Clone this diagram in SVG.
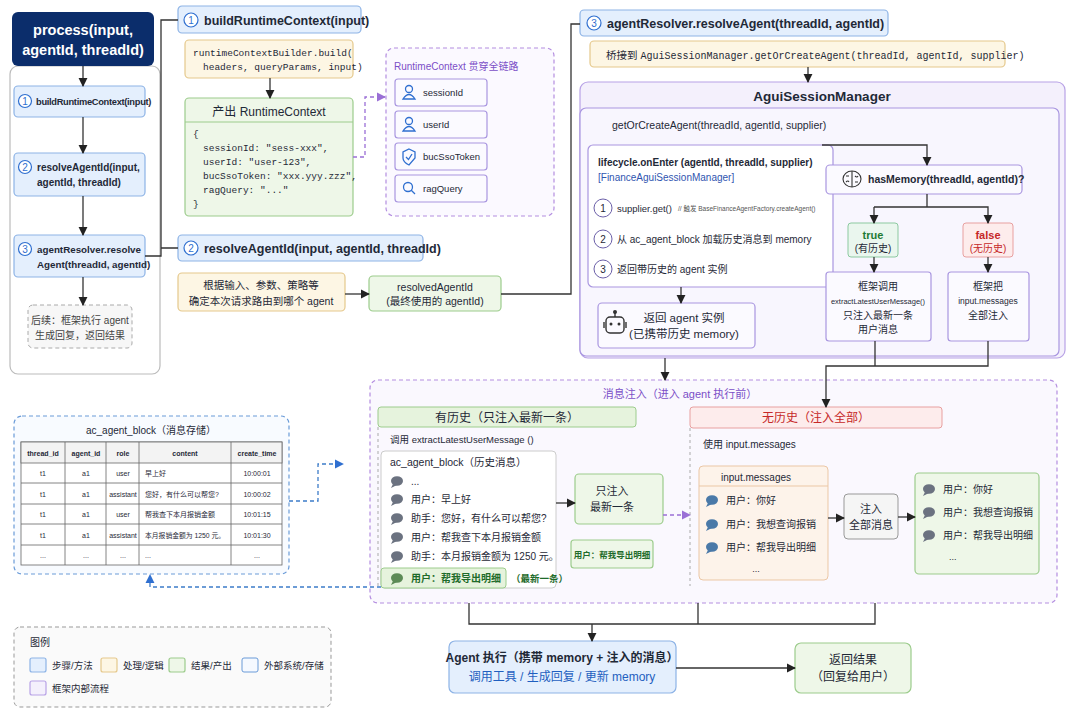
<svg xmlns="http://www.w3.org/2000/svg" width="1080" height="720" viewBox="0 0 1080 720">
<defs>
<style>
text{font-family:"Liberation Sans","Noto Sans CJK SC",sans-serif;fill:#1f2937;font-size:11px}
.m{font-family:"Liberation Mono","Noto Sans CJK SC",monospace}
.b{font-weight:bold}
.c{text-anchor:middle}
.blue{fill:#e4effd;stroke:#8db3e6;stroke-width:1.2}
.yel{fill:#fdf6e4;stroke:#e5c88c;stroke-width:1.2}
.grn{fill:#eef7e8;stroke:#9ccc8c;stroke-width:1.2}
.pur{fill:#f4f0fc;stroke:#b8a2e6;stroke-width:1.2}
.wht{fill:#fbfaff;stroke:#a996e0;stroke-width:1.2}
.ln{fill:none;stroke:#333;stroke-width:1.3}
.dp{fill:none;stroke:#9a6fd6;stroke-width:1.3;stroke-dasharray:4 3}
.db{fill:none;stroke:#3d7cc9;stroke-width:1.3;stroke-dasharray:4 3}
.bub{fill:#6b7280}
.bubb{fill:#4a79a8}
.num{fill:#fff;stroke:#2f6fd0;stroke-width:1.2}
.tb{fill:#fff;stroke:#666;stroke-width:0.8}
.t{font-size:7px}
</style>
<marker id="a" viewBox="0 0 10 10" refX="9" refY="5" markerWidth="7" markerHeight="7" orient="auto"><path d="M0,0L10,5L0,10z" fill="#222"/></marker>
<marker id="ap" viewBox="0 0 10 10" refX="9" refY="5" markerWidth="7" markerHeight="7" orient="auto"><path d="M0,0L10,5L0,10z" fill="#9a6fd6"/></marker>
<marker id="ab" viewBox="0 0 10 10" refX="9" refY="5" markerWidth="7" markerHeight="7" orient="auto"><path d="M0,0L10,5L0,10z" fill="#2f6fd0"/></marker>
<g id="bubble"><ellipse cx="0" cy="0" rx="6" ry="4.8"/><path d="M-4,3 L-6,7 L0,4z"/></g>
</defs>
<rect width="1080" height="720" fill="#fff"/>

<g id="leftcol">
<rect x="10" y="66" width="150" height="308" rx="8" fill="#fff" stroke="#bbb" stroke-width="1.2"/>
</g>
<g id="process">
<rect x="12" y="12" width="142" height="54" rx="6" fill="#0b2d6b"/>
<text x="83" y="35" class="c b" style="fill:#fff;font-size:14.5px">process(input,</text>
<text x="83" y="55" class="c b" style="fill:#fff;font-size:14.5px">agentId, threadId)</text>
</g>
<g id="step1">
<rect x="14" y="86" width="131" height="31" rx="4" class="blue"/>
<circle cx="25" cy="101" r="6.5" class="num"/><text x="25" y="105" class="c" style="fill:#2f6fd0;font-size:10px">1</text>
<text x="36" y="105" class="b" style="font-size:9.3px;letter-spacing:-0.3px">buildRuntimeContext(input)</text>
</g>
<g id="step2">
<rect x="14" y="153" width="131" height="43" rx="4" class="blue"/>
<circle cx="25" cy="167" r="6.5" class="num"/><text x="25" y="171" class="c" style="fill:#2f6fd0;font-size:10px">2</text>
<text x="37" y="171" class="b" style="font-size:10px">resolveAgentId(input,</text>
<text x="37" y="186" class="b" style="font-size:10px">agentId, threadId)</text>
</g>
<g id="step3">
<rect x="14" y="235" width="131" height="42" rx="4" class="blue"/>
<circle cx="25" cy="249" r="6.5" class="num"/><text x="25" y="253" class="c" style="fill:#2f6fd0;font-size:10px">3</text>
<text x="37" y="253" class="b" style="font-size:9.8px">agentResolver.resolve</text>
<text x="37" y="268" class="b" style="font-size:9.8px">Agent(threadId, agentId)</text>
</g>
<g id="follow">
<rect x="28" y="305" width="104" height="43" rx="5" fill="#f7f7f7" stroke="#aaa" stroke-dasharray="4 3"/>
<text x="80" y="324" class="c" style="font-size:10px;fill:#444">后续：框架执行 agent</text>
<text x="80" y="339" class="c" style="font-size:10px;fill:#444">生成回复，返回结果</text>
</g>

<g id="h1">
<rect x="178" y="6" width="183" height="27" rx="4" class="blue"/>
<circle cx="191" cy="20" r="7" class="num"/><text x="191" y="24" class="c" style="fill:#2f6fd0;font-size:10px">1</text>
<text x="204" y="25" class="b" style="font-size:12.5px">buildRuntimeContext(input)</text>
</g>
<g id="builder">
<rect x="185" y="40" width="168" height="38" rx="4" class="yel"/>
<text x="193" y="56" class="m" style="font-size:9.5px">runtimeContextBuilder.build(</text>
<text x="203" y="70" class="m" style="font-size:9.5px">headers, queryParams, input)</text>
</g>
<g id="rc">
<rect x="185" y="98" width="168" height="118" rx="4" class="grn"/>
<line x1="185" y1="122" x2="353" y2="122" stroke="#9ccc8c"/>
<text x="269" y="116" class="c" style="font-size:12px">产出 RuntimeContext</text>
<text x="193" y="137" class="m" style="font-size:9.5px">{</text>
<text x="203" y="151" class="m" style="font-size:9.5px">sessionId: "sess-xxx",</text>
<text x="203" y="165" class="m" style="font-size:9.5px">userId: "user-123",</text>
<text x="203" y="179" class="m" style="font-size:9.5px">bucSsoToken: "xxx.yyy.zzz",</text>
<text x="203" y="193" class="m" style="font-size:9.5px">ragQuery: "..."</text>
<text x="193" y="207" class="m" style="font-size:9.5px">}</text>
</g>
<g id="rcfields">
<rect x="386" y="48" width="168" height="168" rx="8" fill="#fbf9ff" stroke="#b48ee0" stroke-width="1.2" stroke-dasharray="4 3"/>
<text x="394" y="70" style="fill:#7b4fc7;font-size:10px">RuntimeContext 贯穿全链路</text>
<rect x="395" y="79" width="92" height="27" rx="3" class="wht"/>
<rect x="395" y="111" width="92" height="27" rx="3" class="wht"/>
<rect x="395" y="143" width="92" height="27" rx="3" class="wht"/>
<rect x="395" y="175" width="92" height="27" rx="3" class="wht"/>
<g fill="none" stroke="#2f6fd0" stroke-width="1.3">
<circle cx="409" cy="89" r="3.5"/><path d="M403,99 Q409,90 415,99z"/>
<circle cx="409" cy="121" r="3.5"/><path d="M403,131 Q409,122 415,131z"/>
<path d="M409,149 L415,152 L415,158 Q409,165 409,165 Q403,162 403,158 L403,152z"/><path d="M406,157 L408.5,159.5 L412,154"/>
<circle cx="408" cy="187" r="4.5"/><line x1="411" y1="190" x2="415" y2="194"/>
</g>
<text x="423" y="96" style="font-size:9.5px">sessionId</text>
<text x="423" y="128" style="font-size:9.5px">userId</text>
<text x="423" y="160" style="font-size:9.5px">bucSsoToken</text>
<text x="423" y="192" style="font-size:9.5px">ragQuery</text>
</g>

<g id="h2">
<rect x="178" y="235" width="245" height="26" rx="4" class="blue"/>
<circle cx="191" cy="248" r="7" class="num"/><text x="191" y="252" class="c" style="fill:#2f6fd0;font-size:10px">2</text>
<text x="204" y="253" class="b" style="font-size:12.5px">resolveAgentId(input, agentId, threadId)</text>
</g>
<g id="route">
<rect x="178" y="273" width="167" height="38" rx="4" class="yel"/>
<text x="261" y="289" class="c" style="font-size:10.5px">根据输入、参数、策略等</text>
<text x="261" y="305" class="c" style="font-size:10.5px">确定本次请求路由到哪个 agent</text>
</g>
<g id="resolved">
<rect x="369" y="276" width="132" height="35" rx="4" class="grn"/>
<text x="435" y="291" class="c" style="font-size:10.5px">resolvedAgentId</text>
<text x="435" y="305" class="c" style="font-size:10.5px">(最终使用的 agentId)</text>
</g>

<g id="h3">
<rect x="580" y="10" width="308" height="26" rx="4" class="blue"/>
<circle cx="594" cy="23" r="7" class="num"/><text x="594" y="27" class="c" style="fill:#2f6fd0;font-size:10px">3</text>
<text x="607" y="28" class="b" style="font-size:12.5px">agentResolver.resolveAgent(threadId, agentId)</text>
</g>
<g id="bridge">
<rect x="590" y="41" width="415" height="26" rx="4" class="yel"/>
<text x="606" y="59" style="font-size:10.5px">桥接到 <tspan class="m" style="font-size:10px">AguiSessionManager.getOrCreateAgent(threadId, agentId, supplier)</tspan></text>
</g>
<g id="asm">
<rect x="580" y="82" width="485" height="276" rx="8" class="pur"/>
<rect x="580" y="108" width="479" height="248" rx="6" fill="#f8f6fe" stroke="#a996e0" stroke-width="1.2"/>
<text x="822" y="101" class="c b" style="font-size:13.5px">AguiSessionManager</text>
<text x="612" y="129" style="font-size:10.5px">getOrCreateAgent(threadId, agentId, supplier)</text>
</g>
<g id="lifecycle">
<rect x="588" y="145" width="245" height="142" rx="5" fill="#fff" stroke="#a996e0" stroke-width="1.2"/>
<text x="598" y="166" class="b" style="font-size:10px">lifecycle.onEnter (agentId, threadId, supplier)</text>
<text x="598" y="181" style="fill:#2f55b0;font-size:10px">[FinanceAguiSessionManager]</text>
<g fill="#fff" stroke="#6b5fa8" stroke-width="1"><circle cx="603" cy="208" r="9"/><circle cx="603" cy="239" r="9"/><circle cx="603" cy="269" r="9"/></g>
<text x="603" y="212" class="c" style="font-size:10px">1</text>
<text x="603" y="243" class="c" style="font-size:10px">2</text>
<text x="603" y="273" class="c" style="font-size:10px">3</text>
<text x="617" y="212" style="font-size:9.5px">supplier.get()</text>
<text x="678" y="211" style="font-size:6.5px;fill:#555">// 触发 BaseFinanceAgentFactory.createAgent()</text>
<text x="617" y="243" style="font-size:10px">从 ac_agent_block 加载历史消息到 memory</text>
<text x="617" y="273" style="font-size:10px">返回带历史的 agent 实例</text>
</g>
<g id="hasmem">
<rect x="826" y="165" width="196" height="29" rx="4" class="wht"/>
<g fill="none" stroke="#333" stroke-width="1.1"><ellipse cx="852" cy="179" rx="9" ry="8"/><line x1="852" y1="171" x2="852" y2="187"/><path d="M846,176 h3 M855,182 h3 M846,182 q2,-2 3,0 M855,176 q2,2 3,0"/></g>
<text x="868" y="183" class="b" style="font-size:10.5px">hasMemory(threadId, agentId)?</text>
</g>
<g id="true">
<rect x="848" y="223" width="50" height="34" rx="3" fill="#eaf6ee" stroke="#8cc9a0"/>
<text x="873" y="239" class="c b" style="fill:#1e7b34;font-size:11px">true</text>
<text x="873" y="252" class="c" style="font-size:10px">(有历史)</text>
</g>
<g id="false">
<rect x="963" y="223" width="50" height="34" rx="3" fill="#fdecec" stroke="#e8a0a0"/>
<text x="988" y="239" class="c b" style="fill:#c62828;font-size:11px">false</text>
<text x="988" y="252" class="c" style="fill:#c62828;font-size:10px">(无历史)</text>
</g>
<g id="fwcall">
<rect x="826" y="272" width="105" height="69" rx="3" class="wht"/>
<text x="878" y="290" class="c" style="font-size:10px">框架调用</text>
<text x="878" y="304" class="c" style="font-size:7.5px">extractLatestUserMessage()</text>
<text x="878" y="319" class="c" style="font-size:10px">只注入最新一条</text>
<text x="878" y="333" class="c" style="font-size:10px">用户消息</text>
</g>
<g id="fwall">
<rect x="948" y="272" width="81" height="69" rx="3" class="wht"/>
<text x="988" y="290" class="c" style="font-size:10px">框架把</text>
<text x="988" y="304" class="c" style="font-size:8.5px">input.messages</text>
<text x="988" y="319" class="c" style="font-size:10px">全部注入</text>
</g>
<g id="retagent">
<rect x="598" y="303" width="157" height="45" rx="4" class="wht"/>
<g fill="none" stroke="#333" stroke-width="1.4"><rect x="606" y="317" width="18" height="16" rx="4"/><line x1="615" y1="317" x2="615" y2="313"/><circle cx="615" cy="312" r="1.3" fill="#333"/><line x1="604" y1="322" x2="604" y2="328"/><line x1="626" y1="322" x2="626" y2="328"/></g>
<circle cx="611" cy="324" r="1.5" fill="#333"/><circle cx="619" cy="324" r="1.5" fill="#333"/>
<text x="684" y="322" class="c" style="font-size:11.5px">返回 agent 实例</text>
<text x="684" y="338" class="c" style="font-size:11.5px">(已携带历史 memory)</text>
</g>

<g id="inject">
<rect x="370" y="380" width="687" height="223" rx="8" fill="#faf8fe" stroke="#b48ee0" stroke-width="1.2" stroke-dasharray="4 3"/>
<text x="680" y="398" class="c" style="fill:#7b4fc7;font-size:11px">消息注入（进入 agent 执行前）</text>
<rect x="378" y="407" width="258" height="20" rx="3" fill="#e6f3dd" stroke="#9ccc8c"/>
<text x="507" y="422" class="c" style="font-size:12px">有历史（只注入最新一条）</text>
<line x1="378" y1="427" x2="378" y2="586" stroke="#aaa" stroke-dasharray="3 3"/>
<text x="390" y="443" style="font-size:9.5px">调用 extractLatestUserMessage ()</text>
<rect x="690" y="407" width="252" height="21" rx="3" fill="#fdecec" stroke="#e8a0a0"/>
<text x="816" y="422" class="c" style="fill:#c62828;font-size:12px">无历史（注入全部）</text>
<line x1="690" y1="428" x2="690" y2="586" stroke="#aaa" stroke-dasharray="3 3"/>
<text x="703" y="448" style="font-size:10px">使用 input.messages</text>
</g>
<g id="hist">
<rect x="381" y="451" width="175" height="137" rx="4" fill="#fff" stroke="#ccc"/>
<text x="390" y="466" style="font-size:10.5px">ac_agent_block（历史消息）</text>
<g class="bub"><use href="#bubble" x="397" y="481"/><use href="#bubble" x="397" y="499"/><use href="#bubble" x="397" y="518"/><use href="#bubble" x="397" y="537"/><use href="#bubble" x="397" y="556"/></g>
<text x="411" y="485" style="font-size:10px">...</text>
<text x="411" y="503" style="font-size:10px">用户：早上好</text>
<text x="411" y="522" style="font-size:10px">助手：您好，有什么可以帮您?</text>
<text x="411" y="541" style="font-size:10px">用户：帮我查下本月报销金额</text>
<text x="411" y="560" style="font-size:10px">助手：本月报销金额为 1250 元。</text>
<rect x="381" y="568" width="125" height="20" rx="3" fill="#e6f3dd" stroke="#9ccc8c"/>
<use href="#bubble" x="397" y="578" fill="#5c8a56"/>
<text x="411" y="582" class="b" style="fill:#1e6b2a;font-size:10px">用户：帮我导出明细</text>
<text x="511" y="582" class="b" style="fill:#1e6b2a;font-size:9.5px">（最新一条）</text>
</g>
<g id="onlylatest">
<rect x="575" y="474" width="88" height="50" rx="4" class="grn"/>
<text x="612" y="495" class="c" style="font-size:11px">只注入</text>
<text x="612" y="511" class="c" style="font-size:11px">最新一条</text>
</g>
<g id="latestmsg">
<rect x="571" y="540" width="82" height="28" rx="3" class="grn"/>
<text x="612" y="558" class="c b" style="fill:#1e6b2a;font-size:8.5px">用户：帮我导出明细</text>
</g>
<g id="inputmsgs">
<rect x="699" y="466" width="129" height="114" rx="4" fill="#fdf3ea" stroke="#ebc7a5"/>
<line x1="699" y1="486" x2="828" y2="486" stroke="#ebc7a5"/>
<text x="756" y="481" class="c" style="font-size:10px">input.messages</text>
<g class="bubb"><use href="#bubble" x="712" y="500"/><use href="#bubble" x="712" y="524"/><use href="#bubble" x="712" y="547"/></g>
<text x="726" y="504" style="font-size:10px">用户：你好</text>
<text x="726" y="528" style="font-size:10px">用户：我想查询报销</text>
<text x="726" y="551" style="font-size:10px">用户：帮我导出明细</text>
<text x="756" y="572" class="c" style="font-size:9px">...</text>
</g>
<g id="injectall">
<rect x="844" y="494" width="54" height="45" rx="4" fill="#f5f5f5" stroke="#999"/>
<text x="871" y="513" class="c" style="font-size:11px">注入</text>
<text x="871" y="529" class="c" style="font-size:11px">全部消息</text>
</g>
<g id="allres">
<rect x="915" y="473" width="124" height="101" rx="4" class="grn"/>
<g class="bub"><use href="#bubble" x="929" y="489"/><use href="#bubble" x="929" y="512"/><use href="#bubble" x="929" y="535"/></g>
<text x="943" y="493" style="font-size:10px">用户：你好</text>
<text x="943" y="516" style="font-size:10px">用户：我想查询报销</text>
<text x="943" y="539" style="font-size:10px">用户：帮我导出明细</text>
<text x="949" y="560" style="font-size:9px">...</text>
</g>

<g id="table">
<rect x="14" y="416" width="275" height="158" rx="8" fill="#f8fbff" stroke="#6a9bd8" stroke-width="1.2" stroke-dasharray="4 3"/>
<text x="151" y="434" class="c" style="font-size:10px">ac_agent_block（消息存储）</text>
<rect x="21" y="442" width="261" height="123" class="tb"/>
<rect x="21" y="442" width="261" height="21" fill="#f3f3f3" stroke="#666" stroke-width="0.8"/>
<g stroke="#666" stroke-width="0.8"><line x1="21" y1="483" x2="282" y2="483"/><line x1="21" y1="504" x2="282" y2="504"/><line x1="21" y1="524" x2="282" y2="524"/><line x1="21" y1="545" x2="282" y2="545"/>
<line x1="65" y1="442" x2="65" y2="565"/><line x1="106" y1="442" x2="106" y2="565"/><line x1="139" y1="442" x2="139" y2="565"/><line x1="231" y1="442" x2="231" y2="565"/></g>
<text x="43" y="456" class="c b t">thread_id</text><text x="86" y="456" class="c b t">agent_id</text><text x="123" y="456" class="c b t">role</text><text x="185" y="456" class="c b t">content</text><text x="257" y="456" class="c b t">create_time</text>
<text x="43" y="476" class="c t">t1</text><text x="86" y="476" class="c t">a1</text><text x="123" y="476" class="c t">user</text><text x="145" y="476" class="t">早上好</text><text x="257" y="476" class="c t">10:00:01</text>
<text x="43" y="497" class="c t">t1</text><text x="86" y="497" class="c t">a1</text><text x="123" y="497" class="c t">assistant</text><text x="145" y="497" class="t">您好，有什么可以帮您?</text><text x="257" y="497" class="c t">10:00:02</text>
<text x="43" y="517" class="c t">t1</text><text x="86" y="517" class="c t">a1</text><text x="123" y="517" class="c t">user</text><text x="145" y="517" class="t">帮我查下本月报销金额</text><text x="257" y="517" class="c t">10:01:15</text>
<text x="43" y="538" class="c t">t1</text><text x="86" y="538" class="c t">a1</text><text x="123" y="538" class="c t">assistant</text><text x="145" y="538" class="t" style="font-size:6.8px">本月报销金额为 1250 元。</text><text x="257" y="538" class="c t">10:01:30</text>
<text x="43" y="558" class="c t">...</text><text x="86" y="558" class="c t">...</text><text x="123" y="558" class="c t">...</text><text x="145" y="558" class="t">...</text><text x="257" y="558" class="c t">...</text>
</g>

<g id="exec">
<rect x="449" y="641" width="227" height="52" rx="6" class="blue"/>
<text x="562" y="662" class="c b" style="font-size:12px">Agent 执行（携带 memory + 注入的消息）</text>
<text x="562" y="681" class="c" style="fill:#1f5fc0;font-size:12px">调用工具 / 生成回复 / 更新 memory</text>
</g>
<g id="result">
<rect x="795" y="643" width="116" height="50" rx="6" class="grn"/>
<text x="853" y="664" class="c" style="font-size:12px">返回结果</text>
<text x="853" y="681" class="c" style="font-size:12px">（回复给用户）</text>
</g>

<g id="legend">
<rect x="14" y="627" width="317" height="80" rx="6" fill="#fafafa" stroke="#999" stroke-dasharray="4 3"/>
<text x="30" y="646" style="font-size:10px">图例</text>
<rect x="30" y="658" width="16" height="14" rx="2" class="blue"/><text x="52" y="669" style="font-size:9.5px">步骤/方法</text>
<rect x="101" y="658" width="16" height="14" rx="2" class="yel"/><text x="123" y="669" style="font-size:9.5px">处理/逻辑</text>
<rect x="169" y="658" width="16" height="14" rx="2" class="grn"/><text x="191" y="669" style="font-size:9.5px">结果/产出</text>
<rect x="242" y="658" width="16" height="14" rx="2" fill="#f5f9ff" stroke="#6a9bd8"/><text x="264" y="669" style="font-size:9.5px">外部系统/存储</text>
<rect x="30" y="681" width="16" height="14" rx="2" class="pur"/><text x="52" y="692" style="font-size:9.5px">框架内部流程</text>
</g>

<g id="connectors">
<path class="ln" d="M83,66V86" marker-end="url(#a)"/>
<path class="ln" d="M83,117V153" marker-end="url(#a)"/>
<path class="ln" d="M83,196V235" marker-end="url(#a)"/>
<path class="ln" d="M83,277V305" marker-end="url(#a)"/>
<path class="ln" d="M145,256H161V20H178 M161,248H178"/>
<path class="ln" d="M270,78V98" marker-end="url(#a)"/>
<path class="dp" d="M353,157H365V97H385" marker-end="url(#ap)"/>
<path class="ln" d="M345,294H369" marker-end="url(#a)"/>
<path class="ln" d="M501,294H571V24H580"/>
<path class="ln" d="M808,67V82" marker-end="url(#a)"/>
<path class="ln" d="M822,145H927V165" marker-end="url(#a)"/>
<path class="ln" d="M927,194V207H874 M927,207H988V223" marker-end="url(#a)"/>
<path class="ln" d="M874,207V223" marker-end="url(#a)"/>
<path class="ln" d="M874,257V272" marker-end="url(#a)"/>
<path class="ln" d="M988,257V272" marker-end="url(#a)"/>
<path class="ln" d="M681,287V303" marker-end="url(#a)"/>
<path class="ln" d="M875,341V366 M988,341V366H826V407" marker-end="url(#a)"/>
<path class="ln" d="M665,358V380" marker-end="url(#a)" stroke="#999"/>
<path class="ln" d="M556,503H575" marker-end="url(#a)"/>
<path class="dp" d="M663,515H690" marker-end="url(#ap)"/>
<path class="ln" d="M828,518H844" marker-end="url(#a)"/>
<path class="ln" d="M898,517H915" marker-end="url(#a)"/>
<path class="db" d="M289,501H318V464H343" marker-end="url(#ab)"/>
<path class="db" d="M381,587H150V575" marker-end="url(#ab)"/>
<path class="ln" d="M469,603V624H875V603 M698,603V624"/>
<path class="ln" d="M592,624V641" marker-end="url(#a)"/>
<path class="ln" d="M676,668H795" marker-end="url(#a)"/>
</g>
</svg>
